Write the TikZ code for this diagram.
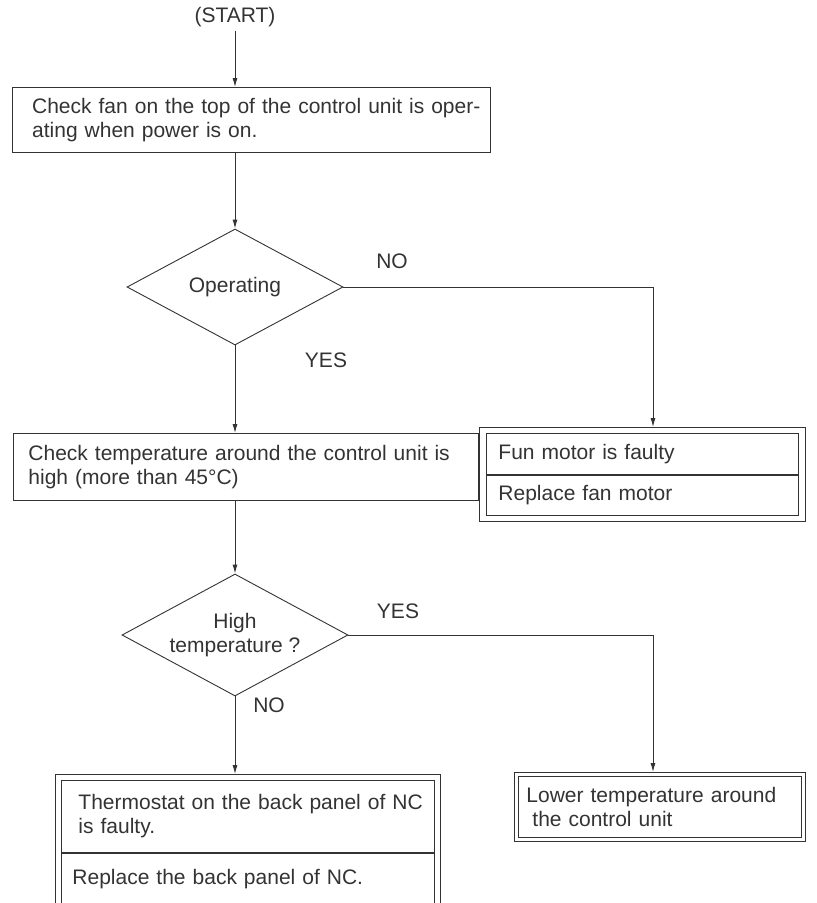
\documentclass[tikz,border=0pt]{standalone}
\usepackage{fontspec}
\setmainfont{Liberation Sans}
\usetikzlibrary{positioning,shapes.geometric,arrows.meta}
\definecolor{linegray}{HTML}{333333}
\begin{document}
\begin{tikzpicture}[x=1pt, y=-1pt, >={Latex[length=9pt,width=5pt]}, line width=0.9pt, color=linegray, every node/.style={font=\fontsize{21}{24}\selectfont}]
\tikzstyle{box}=[rectangle, draw, align=left, anchor=north west, inner ysep=0pt]
\tikzstyle{decision}=[diamond, draw, align=center, inner sep=0pt, aspect=1.85]
\tikzstyle{lbl}=[inner sep=0pt]
\useasboundingbox (0,0) rectangle (817,903);
\clip (0,0) rectangle (817,903);
\node (start) at (235,17) {(START)};
\node[box, inner xsep=20pt, text width=438pt, minimum height=65pt] (check1) at (11.7,87) {\mbox{Check fan on the top of the control unit is oper-}\\ating when power is on.};
\node[decision, minimum width=216pt, minimum height=116pt] (dia1) at (235,287) {Operating};
\node[box, inner xsep=15.3pt, text width=435pt, minimum height=67pt] (check2) at (12.7,433) {\mbox{Check temperature around the control unit is}\\high (more than 45°C)};
\node[decision, minimum width=226pt, minimum height=122pt] (dia2) at (235,635) {High\\temperature ?};
% fan motor result
\node[box, inner xsep=12pt, text width=288pt, minimum height=41pt] (fan1) at (486,433) {Fun motor is faulty};
\node[box, inner xsep=12pt, text width=288pt, minimum height=40pt] (fan2) at (fan1.south west) {Replace fan motor};
\draw ([shift={(-7pt,6pt)}]fan1.north west) rectangle ([shift={(7pt,-6pt)}]fan2.south east);
% temperature results
\node[box, inner xsep=8pt, text width=267pt, minimum height=61pt] (lower) at (518,776) {Lower temperature around\\\hspace*{6pt}the control unit};
\draw ([shift={(-4pt,4pt)}]lower.north west) rectangle ([shift={(4pt,-4pt)}]lower.south east);
\node[box, inner xsep=17pt, text width=339pt, minimum height=72pt] (therm1) at (61,780) {\mbox{Thermostat on the back panel of NC}\\is faulty.};
\node[box, inner xsep=11pt, text width=351pt, minimum height=52pt] (therm2) at (therm1.south west) {Replace the back panel of NC.};
\draw ([shift={(-6pt,6pt)}]therm1.north west) rectangle ([shift={(6pt,-6pt)}]therm2.south east);
\coordinate (fanin) at (653,427);
\coordinate (lowin) at (653,772);
\coordinate (thermin) at (235,774);
\node[lbl] (no1) at (392,261) {NO};
\node[lbl] (yes1) at (326,360) {YES};
\node[lbl] (yes2) at (398,611) {YES};
\node[lbl] (no2) at (269,705) {NO};
\draw[->] (start) -- (start |- check1.north);
\draw[->] (start |- check1.south) -- (dia1);
\draw[->] (dia1.east) -| (fanin);
\draw[->] (dia1) -- (dia1 |- check2.north);
\draw[->] (dia1 |- check2.south) -- (dia2);
\draw[->] (dia2.east) -| (lowin);
\draw[->] (dia2) -- (thermin);
\end{tikzpicture}
\end{document}
